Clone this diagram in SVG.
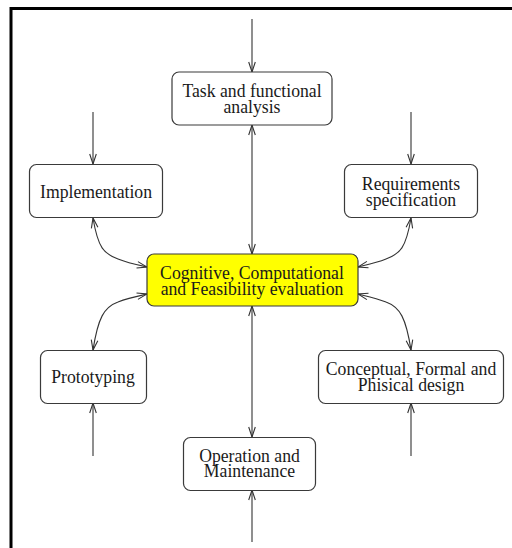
<svg xmlns="http://www.w3.org/2000/svg" width="512" height="548" viewBox="0 0 512 548">
  <style>
    .box { fill: #ffffff; stroke: #3a3a3a; stroke-width: 1.2; }
    .hub { fill: #ffff00; stroke: #3a3a3a; stroke-width: 1.2; }
    .lbl { font-family: "Liberation Serif", "Times New Roman", serif; font-size: 17.7px; fill: #1a1a1a; text-anchor: middle; }
    .wire { fill: none; stroke: #333333; stroke-width: 1.1; }
  </style>
  <defs>
    <marker id="head" viewBox="-11 -5 12 10" refX="0" refY="0" markerWidth="12" markerHeight="10" markerUnits="userSpaceOnUse" orient="auto-start-reverse">
      <path d="M-10,-3.3 L0,0 L-10,3.3" fill="none" stroke="#333333" stroke-width="1.1"/>
    </marker>
  </defs>

  <rect width="512" height="548" fill="#ffffff"/>
  <!-- page frame -->
  <path d="M11,548 L11,8.5 L512,8.5" fill="none" stroke="#000000" stroke-width="3"/>

  <g id="connectors">
    <!-- incoming arrows -->
    <line class="wire" x1="252" y1="19" x2="252" y2="72" marker-end="url(#head)"/>
    <line class="wire" x1="93" y1="112" x2="93" y2="164" marker-end="url(#head)"/>
    <line class="wire" x1="411" y1="112" x2="411" y2="164" marker-end="url(#head)"/>
    <line class="wire" x1="93" y1="456" x2="93" y2="403" marker-end="url(#head)"/>
    <line class="wire" x1="411" y1="456" x2="411" y2="403" marker-end="url(#head)"/>
    <line class="wire" x1="252" y1="542" x2="252" y2="490" marker-end="url(#head)"/>
    <!-- links with the evaluation hub -->
    <line class="wire" x1="252" y1="125" x2="252" y2="254" marker-start="url(#head)" marker-end="url(#head)"/>
    <line class="wire" x1="252" y1="306" x2="252" y2="437" marker-start="url(#head)" marker-end="url(#head)"/>
    <path class="wire" d="M93,218 C98,248 104,254 118,259 C128,263 138,265 147,267" marker-start="url(#head)" marker-end="url(#head)"/>
    <path class="wire" d="M411,218 C406,248 400,254 386,259 C376,263 366,265 358,267" marker-start="url(#head)" marker-end="url(#head)"/>
    <path class="wire" d="M147,294 C138,296 128,298 118,302 C104,307 98,318 93,350" marker-start="url(#head)" marker-end="url(#head)"/>
    <path class="wire" d="M358,294 C366,296 376,298 386,302 C400,307 406,318 411,350" marker-start="url(#head)" marker-end="url(#head)"/>
  </g>

  <g id="task">
    <rect class="box" x="172" y="72" width="160" height="53" rx="7"/>
    <text class="lbl" transform="translate(252,96.5) scale(1,1.1)">Task and functional</text>
    <text class="lbl" transform="translate(252,112.5) scale(1,1.1)">analysis</text>
  </g>
  <g id="implementation">
    <rect class="box" x="29.5" y="164.5" width="133" height="53" rx="7"/>
    <text class="lbl" transform="translate(96,198) scale(1,1.1)">Implementation</text>
  </g>
  <g id="requirements">
    <rect class="box" x="344.5" y="164.5" width="133" height="53" rx="7"/>
    <text class="lbl" transform="translate(411,190) scale(1,1.1)">Requirements</text>
    <text class="lbl" transform="translate(411,206) scale(1,1.1)">specification</text>
  </g>
  <g id="evaluation">
    <rect class="hub" x="147" y="254" width="211" height="52" rx="7"/>
    <text class="lbl" transform="translate(252,279) scale(1,1.1)">Cognitive, Computational</text>
    <text class="lbl" transform="translate(252,295) scale(1,1.1)">and Feasibility evaluation</text>
  </g>
  <g id="prototyping">
    <rect class="box" x="40.5" y="350.5" width="106" height="53" rx="7"/>
    <text class="lbl" transform="translate(93,383) scale(1,1.1)">Prototyping</text>
  </g>
  <g id="design">
    <rect class="box" x="318.5" y="350.5" width="185" height="53" rx="7"/>
    <text class="lbl" transform="translate(411,375) scale(1,1.1)">Conceptual, Formal and</text>
    <text class="lbl" transform="translate(411,391) scale(1,1.1)">Phisical design</text>
  </g>
  <g id="operation">
    <rect class="box" x="183.5" y="437.5" width="132" height="53" rx="7"/>
    <text class="lbl" transform="translate(249.5,461.5) scale(1,1.1)">Operation and</text>
    <text class="lbl" transform="translate(249.5,477) scale(1,1.1)">Maintenance</text>
  </g>
</svg>
